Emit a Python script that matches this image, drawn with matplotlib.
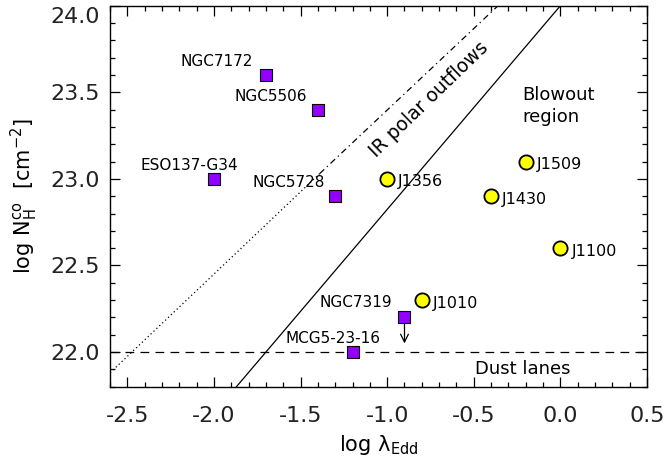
import matplotlib
matplotlib.use('Agg')
import matplotlib.pyplot as plt
import matplotlib.transforms as mtransforms
from matplotlib.ticker import MultipleLocator, FormatStrFormatter

# Seyferts (purple squares)
sey_names = ['NGC7172', 'NGC5506', 'ESO137-G34', 'NGC5728', 'NGC7319', 'MCG5-23-16']
sey_x = [-1.7, -1.4, -2.0, -1.3, -0.9, -1.2]
sey_y = [23.6, 23.4, 23.0, 22.9, 22.2, 22.0]
upper_limit_name = 'NGC7319'
upper_limit_tip = 22.05

# QSO2s (yellow circles)
qso_names = ['J1356', 'J1509', 'J1430', 'J1100', 'J1010']
qso_x = [-1.0, -0.2, -0.4, 0.0, -0.8]
qso_y = [23.0, 23.1, 22.9, 22.6, 22.3]

# boundary lines
edd_x = [-1.87, 0.0]
edd_y = [21.8, 24.0]
ir_dot_x = [-2.6, -1.39]
ir_dot_y = [21.88, 23.03]
ir_dd_x = [-1.39, -0.36]
ir_dd_y = [23.03, 24.0]
dust_y = 22.0

plt.rcParams['font.family'] = ['DejaVu Sans']

fig = plt.figure(figsize=(6.64, 4.61), dpi=100)
ax = fig.add_axes([0.1657, 0.1612, 0.8087, 0.8264])

ax.plot(edd_x, edd_y, color='black', lw=0.9)
ax.plot(ir_dot_x, ir_dot_y, color='black', lw=0.9, linestyle=(0, (1, 2.2)))
ax.plot(ir_dd_x, ir_dd_y, color='black', lw=0.9, linestyle=(0, (5, 3, 1, 3)))
ax.axhline(dust_y, color='black', lw=0.9, linestyle=(0, (7, 5)))

# upper limit arrow
i = sey_names.index(upper_limit_name)
ax.annotate('', xy=(sey_x[i], upper_limit_tip), xytext=(sey_x[i], sey_y[i]),
            arrowprops=dict(arrowstyle='->', color='black', lw=0.9,
                            mutation_scale=14, shrinkA=0, shrinkB=0))

ax.scatter(sey_x, sey_y, marker='s', s=75, color='#9400FF',
           edgecolors='black', linewidths=0.8, zorder=5)
ax.scatter(qso_x, qso_y, marker='o', s=105, color='#FFFF00',
           edgecolors='black', linewidths=1.3, zorder=5)

sey_offsets = {
    'NGC7172': (-13, 13, 'right'),
    'NGC5506': (-11, 13, 'right'),
    'ESO137-G34': (24, 13, 'right'),
    'NGC5728': (-10, 14, 'right'),
    'NGC7319': (-12, 15, 'right'),
    'MCG5-23-16': (28, 14, 'right'),
}
for name, x, y in zip(sey_names, sey_x, sey_y):
    dx, dy, ha = sey_offsets[name]
    ax.annotate(name, (x, y), xytext=(dx, dy), textcoords='offset pixels',
                ha=ha, va='center', fontsize=11)

for name, x, y in zip(qso_names, qso_x, qso_y):
    ax.annotate(name, (x, y), xytext=(11, -3), textcoords='offset pixels',
                ha='left', va='center', fontsize=11.5)

ax.text(-0.76, 23.46, 'IR polar outflows', rotation=44, fontsize=13.5,
        ha='center', va='center', rotation_mode='anchor')
ax.text(-0.22, 23.42, 'Blowout\nregion', fontsize=13, ha='left', va='center',
        linespacing=1.25)
ax.text(-0.22, 21.9, 'Dust lanes', fontsize=13, ha='center', va='center')

ax.set_xlim(-2.6, 0.5)
ax.set_ylim(21.8, 24.0)
ax.xaxis.set_major_locator(MultipleLocator(0.5))
ax.xaxis.set_minor_locator(MultipleLocator(0.1))
ax.yaxis.set_major_locator(MultipleLocator(0.5))
ax.yaxis.set_minor_locator(MultipleLocator(0.1))
ax.xaxis.set_major_formatter(FormatStrFormatter('%.1f'))
ax.yaxis.set_major_formatter(FormatStrFormatter('%.1f'))
ax.tick_params(which='both', direction='in', top=True, right=True, width=0.9)
ax.tick_params(which='major', length=7, labelsize=16, labelcolor='#222222')
ax.tick_params(which='minor', length=3.6)
ax.tick_params(axis='x', pad=14)
ax.tick_params(axis='y', pad=7)
for sp in ax.spines.values():
    sp.set_linewidth(1.0)

ax.set_xlabel('log λ$_{\\rm Edd}$', fontsize=15, labelpad=5)
ax.set_ylabel(r'log N$_{\rm H}^{\rm co}$  [cm$^{-2}$]', fontsize=15, labelpad=8)

# push the top y label down so it stays inside the figure
fig.canvas.draw()
shift = mtransforms.ScaledTranslation(0, -0.09, fig.dpi_scale_trans)
for tick in ax.yaxis.get_major_ticks():
    if abs(tick.get_loc() - 24.0) < 1e-6:
        tick.label1.set_transform(tick.label1.get_transform() + shift)

fig.savefig('out.png', dpi=100)
